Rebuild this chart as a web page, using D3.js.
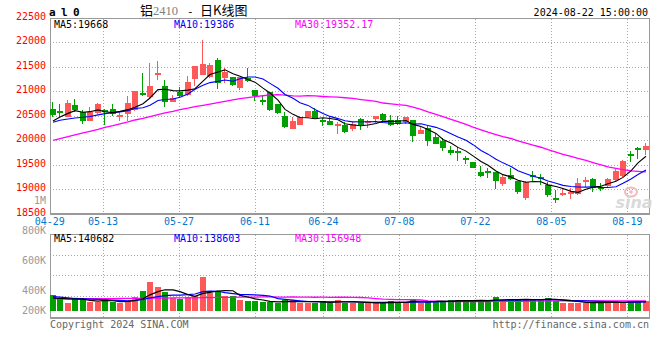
<!DOCTYPE html>
<html><head><meta charset="utf-8">
<script src="https://cdn.jsdelivr.net/npm/d3@7"></script>
<style>
html,body{margin:0;padding:0;background:#fff;}
svg{display:block;}
text{font-family:"DejaVu Sans Mono",monospace;font-size:10px;}
</style></head><body>
<svg id="c" width="660" height="360"></svg>
<script>
const dates = ["04-29","04-30",
"05-06","05-07","05-08","05-09","05-10",
"05-13","05-14","05-15","05-16","05-17",
"05-20","05-21","05-22","05-23","05-24",
"05-27","05-28","05-29","05-30","05-31",
"06-03","06-04","06-05","06-06","06-07",
"06-11","06-12","06-13","06-14",
"06-17","06-18","06-19","06-20","06-21",
"06-24","06-25","06-26","06-27","06-28",
"07-01","07-02","07-03","07-04","07-05",
"07-08","07-09","07-10","07-11","07-12",
"07-15","07-16","07-17","07-18","07-19",
"07-22","07-23","07-24","07-25","07-26",
"07-29","07-30","07-31","08-01","08-02",
"08-05","08-06","08-07","08-08","08-09",
"08-12","08-13","08-14","08-15","08-16",
"08-19","08-20","08-21","08-22"];

const open = [20640,20600,20485,20720,20585,20400,20550,20620,20640,20490,
20540,20620,20965,20880,21345,21115,20775,20995,20925,21245,
21335,21285,21640,21280,21300,21075,21265,21020,20825,20985,
20740,20505,20240,20315,20485,20600,20415,20395,20305,20320,
20240,20430,20350,20435,20540,20410,20410,20380,20410,20135,
20245,20070,19995,19805,19790,19635,19565,19350,19370,19360,
19115,19295,19180,18830,19295,19255,19090,18820,18915,18900,
18905,19170,19205,19050,19075,19200,19275,19715,19850,19805];
const high = [20775,20740,20815,20845,20620,20680,20755,20640,20740,20585,
20910,21000,21370,21570,21620,21230,20925,21095,21315,21515,
22050,21570,21685,21485,21300,21300,21470,21020,20925,20985,
20740,20585,20485,20485,20600,20655,20450,20485,20370,20370,
20370,20465,20415,20495,20565,20520,20495,20485,20410,20280,
20285,20125,20040,19880,19870,19690,19565,19485,19430,19360,
19295,19445,19180,19160,19375,19320,19145,18990,19020,19020,
19225,19245,19225,19125,19225,19415,19605,19790,19870,19955];
const low = [20475,20485,20470,20585,20325,20395,20540,20315,20495,20395,
20395,20605,20910,20860,21230,20690,20775,20890,20910,21100,
21335,21265,21050,21165,21115,21030,21200,20805,20720,20600,
20540,20260,20240,20315,20485,20450,20295,20315,20135,20150,
20190,20210,20260,20350,20395,20295,20315,20335,19960,20135,
19890,19925,19785,19700,19585,19520,19430,19260,19225,19010,
19075,19185,18905,18775,19180,19090,18850,18730,18865,18810,
18885,19055,18940,18965,19035,19160,19260,19565,19620,19700];
const close = [20520,20565,20760,20620,20395,20585,20750,20570,20530,20520,
20760,21000,20925,21115,21375,20790,20865,20905,21190,21515,
21560,21540,21175,21400,21130,21295,21210,20905,20790,20625,
20565,20275,20395,20470,20600,20465,20380,20320,20340,20180,
20340,20315,20390,20495,20420,20315,20325,20470,20095,20210,
19995,19935,19850,19735,19765,19615,19445,19280,19350,19180,
19245,19205,18955,19145,19245,19225,18885,18795,18935,18955,
19125,19190,19020,19030,19210,19375,19585,19690,19840,19885];
const volume = [245000,186000,128000,181000,186000,138000,138000,186000,144000,122000,
154000,218000,314000,457000,377000,303000,202000,186000,218000,239000,
537000,276000,303000,239000,234000,165000,154000,154000,144000,133000,
117000,175000,170000,128000,128000,128000,154000,128000,170000,128000,
128000,128000,117000,117000,128000,154000,144000,128000,186000,117000,
154000,154000,154000,170000,170000,154000,154000,170000,159000,218000,
165000,170000,170000,186000,186000,170000,202000,154000,128000,128000,
128000,128000,128000,128000,154000,128000,128000,154000,154000,154000];

// moving-average values before enough in-chart history exists
const ma5Head = [20395,20475,20550,20605];
const ma10Head = [20370,20410,20435,20455,20470,20485,20520,20545,20565];
const ma30Head = [20000,20035,20075,20110,20150,20185,20225,20265,20300,20335,
20375,20415,20450,20485,20525,20560,20590,20625,20655,20690,
20715,20740,20770,20795,20825,20850,20870,20890,20910];
const vma5Head = [200000,195000,190000,185000];
const vma10Head = [225000,215000,205000,195000,190000,185000,180000,175000,170000];
const vma30Head = [190000,190000,190000,191000,191000,192000,192000,193000,194000,195000,
196000,197000,198000,199000,200000,202000,203000,204000,205000,206000,
208000,210000,212000,213000,214000,215000,216000,218000,220000];

const priceTicks = [22500,22000,21500,21000,20500,20000,19500,19000,18500];
const dateTicks = ["04-29","05-13","05-27","06-11","06-24","07-08","07-22","08-05","08-19"];
const volTickLabels = ["1M","800K","600K","400K","200K"];
const priceLegend = ["MA5:19668","MA10:19386","MA30:19352.17"];
const volLegend = ["MA5:140682","MA10:138603","MA30:156948"];
const maColors = ["#000000","#0000ff","#ff00ff"];

const RED = "#ff5858", GREEN = "#00a000", GRID = "#a8a8a8", FRAME = "#999999";
const L = 50, R = 649, mTop = 18.5, mBot = 213.5, vTop = 234.5, vBot = 318;

function movingAvg(vals, n, head){
  return vals.map((v,i)=> i < n-1 ? head[i] : d3.mean(vals.slice(i-n+1, i+1)));
}

const svg = d3.select("#c");
const xAxis = d3.scalePoint().domain(dates).range([49.8, 650.2]);
const xBand = d3.scaleBand().domain(dates).range([49, 649.5]).paddingInner(0.2).paddingOuter(0.1);
const y = d3.scaleLinear().domain([18500,22500]).range([213.83,17.83]);
const yv = d3.scaleLinear().domain([0,1200000]).range([310.7,235.46]);
const volLabelY = d3.scalePoint().domain(volTickLabels).range([200.5,320.5]);
const cx = d => Math.round(xBand(d)) + 3;

const data = dates.map((d,i)=>({d, o:open[i], h:high[i], l:low[i], c:close[i], v:volume[i]}));

// grids
const g = svg.append("g").attr("shape-rendering","crispEdges");
g.selectAll(".hg").data(priceTicks.slice(1,-1)).join("line")
  .attr("x1",L).attr("x2",R).attr("y1",d=>Math.round(y(d))+0.5).attr("y2",d=>Math.round(y(d))+0.5)
  .attr("stroke",GRID).attr("stroke-dasharray","1,2");
g.selectAll(".vg").data(dateTicks.slice(1)).join("line")
  .attr("x1",d=>Math.round(xAxis(d))+0.5).attr("x2",d=>Math.round(xAxis(d))+0.5)
  .attr("y1",mTop).attr("y2",mBot).attr("stroke",GRID).attr("stroke-dasharray","1,2");
g.selectAll(".vg2").data(dateTicks.slice(1)).join("line")
  .attr("x1",d=>Math.round(xAxis(d))+0.5).attr("x2",d=>Math.round(xAxis(d))+0.5)
  .attr("y1",vTop).attr("y2",vBot).attr("stroke",GRID).attr("stroke-dasharray","1,2");
g.selectAll(".hvg").data(d3.range(1,4)).join("line")
  .attr("x1",L).attr("x2",R).attr("y1",k=>Math.round(vTop+k*20.4)+0.5).attr("y2",k=>Math.round(vTop+k*20.4)+0.5)
  .attr("stroke",GRID).attr("stroke-dasharray","1,2");

// frames
const fr = svg.append("g").attr("shape-rendering","crispEdges").attr("fill","none").attr("stroke",FRAME);
fr.append("path").attr("d",`M${L+0.5},${mBot}V${mTop}H${R+0.5}V${mBot}`);
fr.append("line").attr("x1",L).attr("x2",R+1).attr("y1",mBot).attr("y2",mBot).attr("stroke-width",2);
fr.append("path").attr("d",`M${L+0.5},${vBot}V${vTop}H${R+0.5}V${vBot}`);
fr.append("line").attr("x1",L).attr("x2",R+1).attr("y1",vBot).attr("y2",vBot).attr("stroke-width",1.5);

// candles
const cg = svg.append("g").attr("shape-rendering","crispEdges");
const col = d => d.c >= d.o ? RED : GREEN;
cg.selectAll(".wick").data(data).join("line")
  .attr("x1",d=>cx(d.d)-0.5).attr("x2",d=>cx(d.d)-0.5)
  .attr("y1",d=>y(d.h)).attr("y2",d=>y(d.l)).attr("stroke",col);
cg.selectAll(".body").data(data).join("rect")
  .attr("x",d=>cx(d.d)-3).attr("width",6)
  .attr("y",d=>y(Math.max(d.o,d.c)))
  .attr("height",d=>Math.max(2, y(Math.min(d.o,d.c))-y(Math.max(d.o,d.c))))
  .attr("fill",col);

// volume bars
cg.selectAll(".vbar").data(data).join("rect")
  .attr("x",d=>cx(d.d)-3).attr("width",6)
  .attr("y",d=>yv(d.v)).attr("height",d=>yv(0)-yv(d.v)).attr("fill",col);

// MA lines
const pMAs = [movingAvg(close,5,ma5Head), movingAvg(close,10,ma10Head), movingAvg(close,30,ma30Head)];
const vMAs = [movingAvg(volume,5,vma5Head), movingAvg(volume,10,vma10Head), movingAvg(volume,30,vma30Head)];
const lineP = d3.line().x((v,i)=>cx(dates[i])).y(v=>y(v));
const lineV = d3.line().x((v,i)=>cx(dates[i])).y(v=>yv(v));
[2,1,0].forEach(k=>{
  svg.append("path").attr("d",lineP(pMAs[k])).attr("fill","none").attr("stroke",maColors[k]).attr("stroke-width",k==2?1.3:1.1);
  svg.append("path").attr("d",lineV(vMAs[k])).attr("fill","none").attr("stroke",maColors[k]).attr("stroke-width",k==2?1.3:1.2);
});

// price labels
svg.selectAll(".pl").data(priceTicks).join("text")
  .attr("x",46).attr("y",d=>y(d)+2).attr("text-anchor","end").attr("fill","#ff0000").text(d=>d);
// date labels
svg.selectAll(".dl").data(dateTicks).join("text")
  .attr("x",d=>xAxis(d)).attr("y",224.5).attr("text-anchor","middle").attr("fill","#0078d0").text(d=>d);
// volume labels
svg.selectAll(".vl").data(volTickLabels).join("text")
  .attr("x",46).attr("y",d=>Math.min(volLabelY(d), yv(0))+3.5).attr("text-anchor","end").attr("fill","#999").text(d=>d);

// legends
const lgX = [54,174,295];
svg.selectAll(".lg").data(priceLegend).join("text")
  .attr("x",(d,i)=>lgX[i]).attr("y",27.5).attr("fill",(d,i)=>maColors[i]).text(d=>d);
svg.selectAll(".lgv").data(volLegend).join("text")
  .attr("x",(d,i)=>lgX[i]).attr("y",241.5).attr("fill",(d,i)=>maColors[i]).text(d=>d);

// titles
svg.append("text").attr("x",49).attr("y",16).attr("font-weight","bold").style("font-size","11px")
  .attr("letter-spacing","-0.6").text("a l 0");
const cjk = '"Noto Sans CJK SC", sans-serif';
svg.append("text").attr("x",140).attr("y",15).style("font-family",cjk).style("font-size","13px").text("铝");
svg.append("text").attr("x",153).attr("y",15).style("font-family",'"Liberation Serif", serif').style("font-size","12.5px").attr("fill","#808080").text("2410");
svg.append("text").attr("x",187).attr("y",15).style("font-size","11px").text("-");
svg.append("text").attr("x",200).attr("y",15).style("font-family",cjk).style("font-size","13px").text("日K线图");
svg.append("text").attr("x",648).attr("y",15.5).attr("text-anchor","end").text("2024-08-22 15:00:00");

// footer
svg.append("text").attr("x",50).attr("y",327.5).attr("fill","#666").text("Copyright 2024 SINA.COM");
svg.append("text").attr("x",649).attr("y",327.5).attr("text-anchor","end").attr("fill","#666").text("http://finance.sina.com.cn");

// sina watermark
const wm = svg.append("g").attr("opacity",0.9);
wm.append("ellipse").attr("cx",631).attr("cy",192).attr("rx",6).attr("ry",4.5).attr("fill","none").attr("stroke","#f0b4b4").attr("stroke-width",2);
wm.append("circle").attr("cx",631).attr("cy",192).attr("r",1.8).attr("fill","#f0b4b4");
wm.append("text").attr("x",634).attr("y",208).attr("text-anchor","middle")
  .style("font-family",'"DejaVu Sans", sans-serif').style("font-size","16px").style("font-weight","bold").style("font-style","italic")
  .attr("fill","#d6d6d6").text("sina");
</script>
</body></html>
